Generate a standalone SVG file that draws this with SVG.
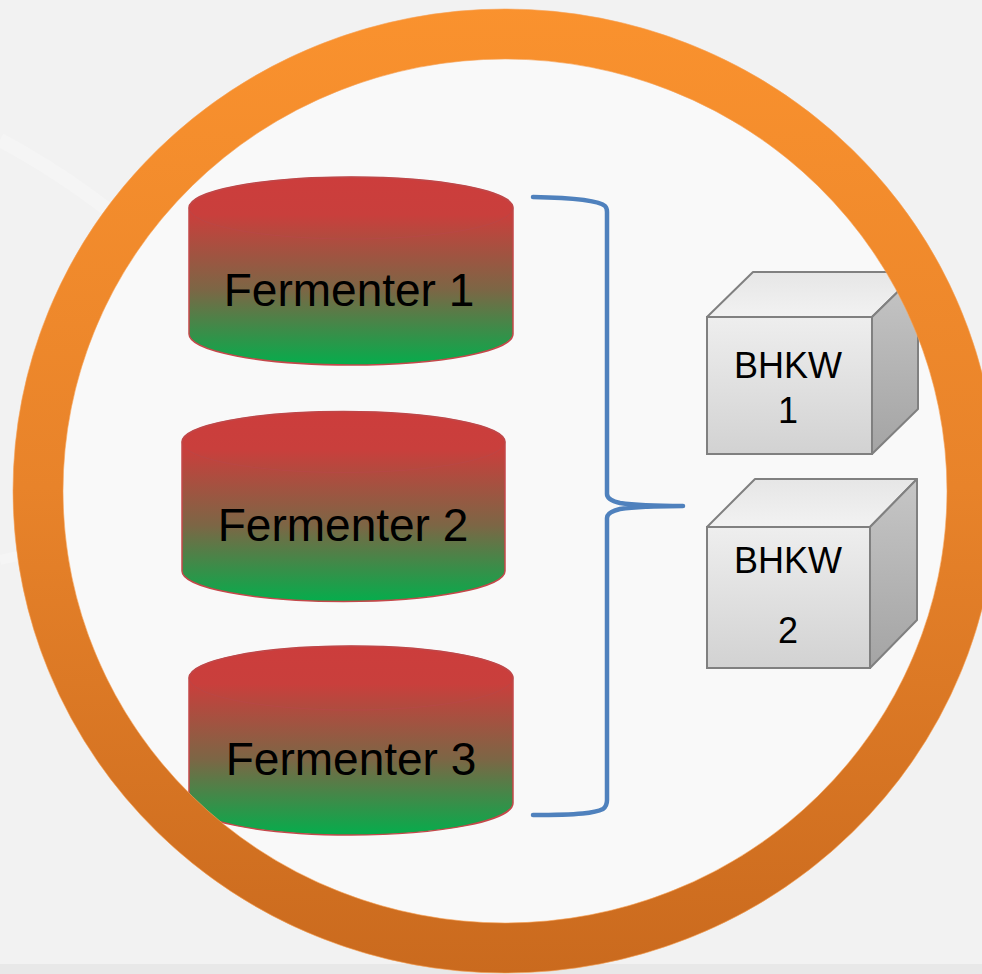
<svg xmlns="http://www.w3.org/2000/svg" width="982" height="974" viewBox="0 0 982 974">
  <defs>
    <linearGradient id="cylGrad" x1="0" y1="0" x2="0" y2="1">
      <stop offset="0" stop-color="#CC3D3C"/>
      <stop offset="0.2" stop-color="#C93F3C"/>
      <stop offset="0.6" stop-color="#7C6645"/>
      <stop offset="1" stop-color="#05AD4C"/>
    </linearGradient>
    <linearGradient id="ringGrad" gradientUnits="userSpaceOnUse" x1="0" y1="0" x2="0" y2="974">
      <stop offset="0" stop-color="#FA922E"/>
      <stop offset="0.5" stop-color="#E8832A"/>
      <stop offset="1" stop-color="#CA6A1E"/>
    </linearGradient>
    <linearGradient id="frontGrad" x1="0" y1="0" x2="0" y2="1">
      <stop offset="0" stop-color="#EEEEEE"/>
      <stop offset="1" stop-color="#D2D2D2"/>
    </linearGradient>
    <linearGradient id="topGrad" x1="0" y1="1" x2="0" y2="0">
      <stop offset="0" stop-color="#F2F2F2"/>
      <stop offset="1" stop-color="#E6E6E6"/>
    </linearGradient>
    <linearGradient id="sideGrad" x1="0" y1="0" x2="0" y2="1">
      <stop offset="0" stop-color="#C6C6C6"/>
      <stop offset="1" stop-color="#A4A4A4"/>
    </linearGradient>
  </defs>
  <style>
    .cyl { fill: url(#cylGrad); stroke: #C4484A; stroke-width: 1.5; }
    .cyltop { fill: none; stroke: #B8484A; stroke-width: 1; opacity: 0.6; }
    .flabel { font-family: "Liberation Sans", Arial, sans-serif; font-size: 46px; fill: #000; text-anchor: middle; }
    .blabel { font-family: "Liberation Sans", Arial, sans-serif; font-size: 36px; fill: #000; text-anchor: middle; }
    .front { fill: url(#frontGrad); stroke: #808080; stroke-width: 2; }
    .top { fill: url(#topGrad); stroke: #808080; stroke-width: 2; stroke-linejoin: round; }
    .side { fill: url(#sideGrad); stroke: #808080; stroke-width: 2; stroke-linejoin: round; }
    .brace { fill: none; stroke: #4F81BD; stroke-width: 4.5; stroke-linecap: round; stroke-linejoin: round; }
  </style>

  <rect x="0" y="0" width="982" height="974" fill="#F2F2F2"/>
  <path d="M0,140 Q300,300 420,700" fill="none" stroke="#F5F5F5" stroke-width="14"/>
  <path d="M0,560 Q160,520 260,700" fill="none" stroke="#F5F5F5" stroke-width="10"/>
  <rect x="0" y="964" width="982" height="10" fill="#E8E8E8"/>
  <ellipse cx="505" cy="491" rx="467" ry="457" fill="#F9F9F9"/>

  <g id="fermenter1">
    <path class="cyl" d="M189,208 A162,31 0 0 1 513,208 L513,334 A162,31 0 0 1 189,334 Z"/>
    <ellipse class="cyltop" cx="351" cy="208" rx="162" ry="31"/>
    <text class="flabel" x="349" y="306">Fermenter 1</text>
  </g>

  <g id="fermenter2">
    <path class="cyl" d="M182,442 A161.5,30.5 0 0 1 505,442 L505,571 A161.5,30.5 0 0 1 182,571 Z"/>
    <ellipse class="cyltop" cx="343.5" cy="442" rx="161.5" ry="30.5"/>
    <text class="flabel" x="343" y="541">Fermenter 2</text>
  </g>

  <g id="fermenter3">
    <path class="cyl" d="M189,678 A162,32 0 0 1 513,678 L513,803 A162,32 0 0 1 189,803 Z"/>
    <ellipse class="cyltop" cx="351" cy="678" rx="162" ry="32"/>
    <text class="flabel" x="351" y="775">Fermenter 3</text>
  </g>

  <g id="connectors">
    <path class="brace" d="M533,197 C580,198 600,201 605,206 Q607,208 607,212 L607,494 Q607,500 620,503 C640,506 660,506 683,506 C660,506 640,506 620,509 Q607,512 607,518 L607,800 Q607,806 603,809 C595,813 580,815 533,815"/>
  </g>

  <g id="bhkw1">
    <polygon class="front" points="707,317 872,317 872,454 707,454"/>
    <polygon class="top" points="707,317 753,272 918,272 872,317"/>
    <polygon class="side" points="872,317 918,272 918,409 872,454"/>
    <text class="blabel" x="788" y="378">BHKW</text>
    <text class="blabel" x="788" y="423">1</text>
  </g>

  <g id="bhkw2">
    <polygon class="front" points="707,527 870,527 870,668 707,668"/>
    <polygon class="top" points="707,527 755,479 917,479 870,527"/>
    <polygon class="side" points="870,527 917,479 917,620 870,668"/>
    <text class="blabel" x="788" y="573">BHKW</text>
    <text class="blabel" x="788" y="643">2</text>
  </g>

  <g id="ring">
    <ellipse cx="505" cy="491" rx="467" ry="457" fill="none" stroke="url(#ringGrad)" stroke-width="50"/>
    <ellipse cx="505" cy="491" rx="492" ry="482" fill="none" stroke="#F6A256" stroke-width="1" opacity="0.6"/>
    <ellipse cx="505" cy="491" rx="442" ry="432" fill="none" stroke="#F6A256" stroke-width="1" opacity="0.6"/>
  </g>
</svg>
